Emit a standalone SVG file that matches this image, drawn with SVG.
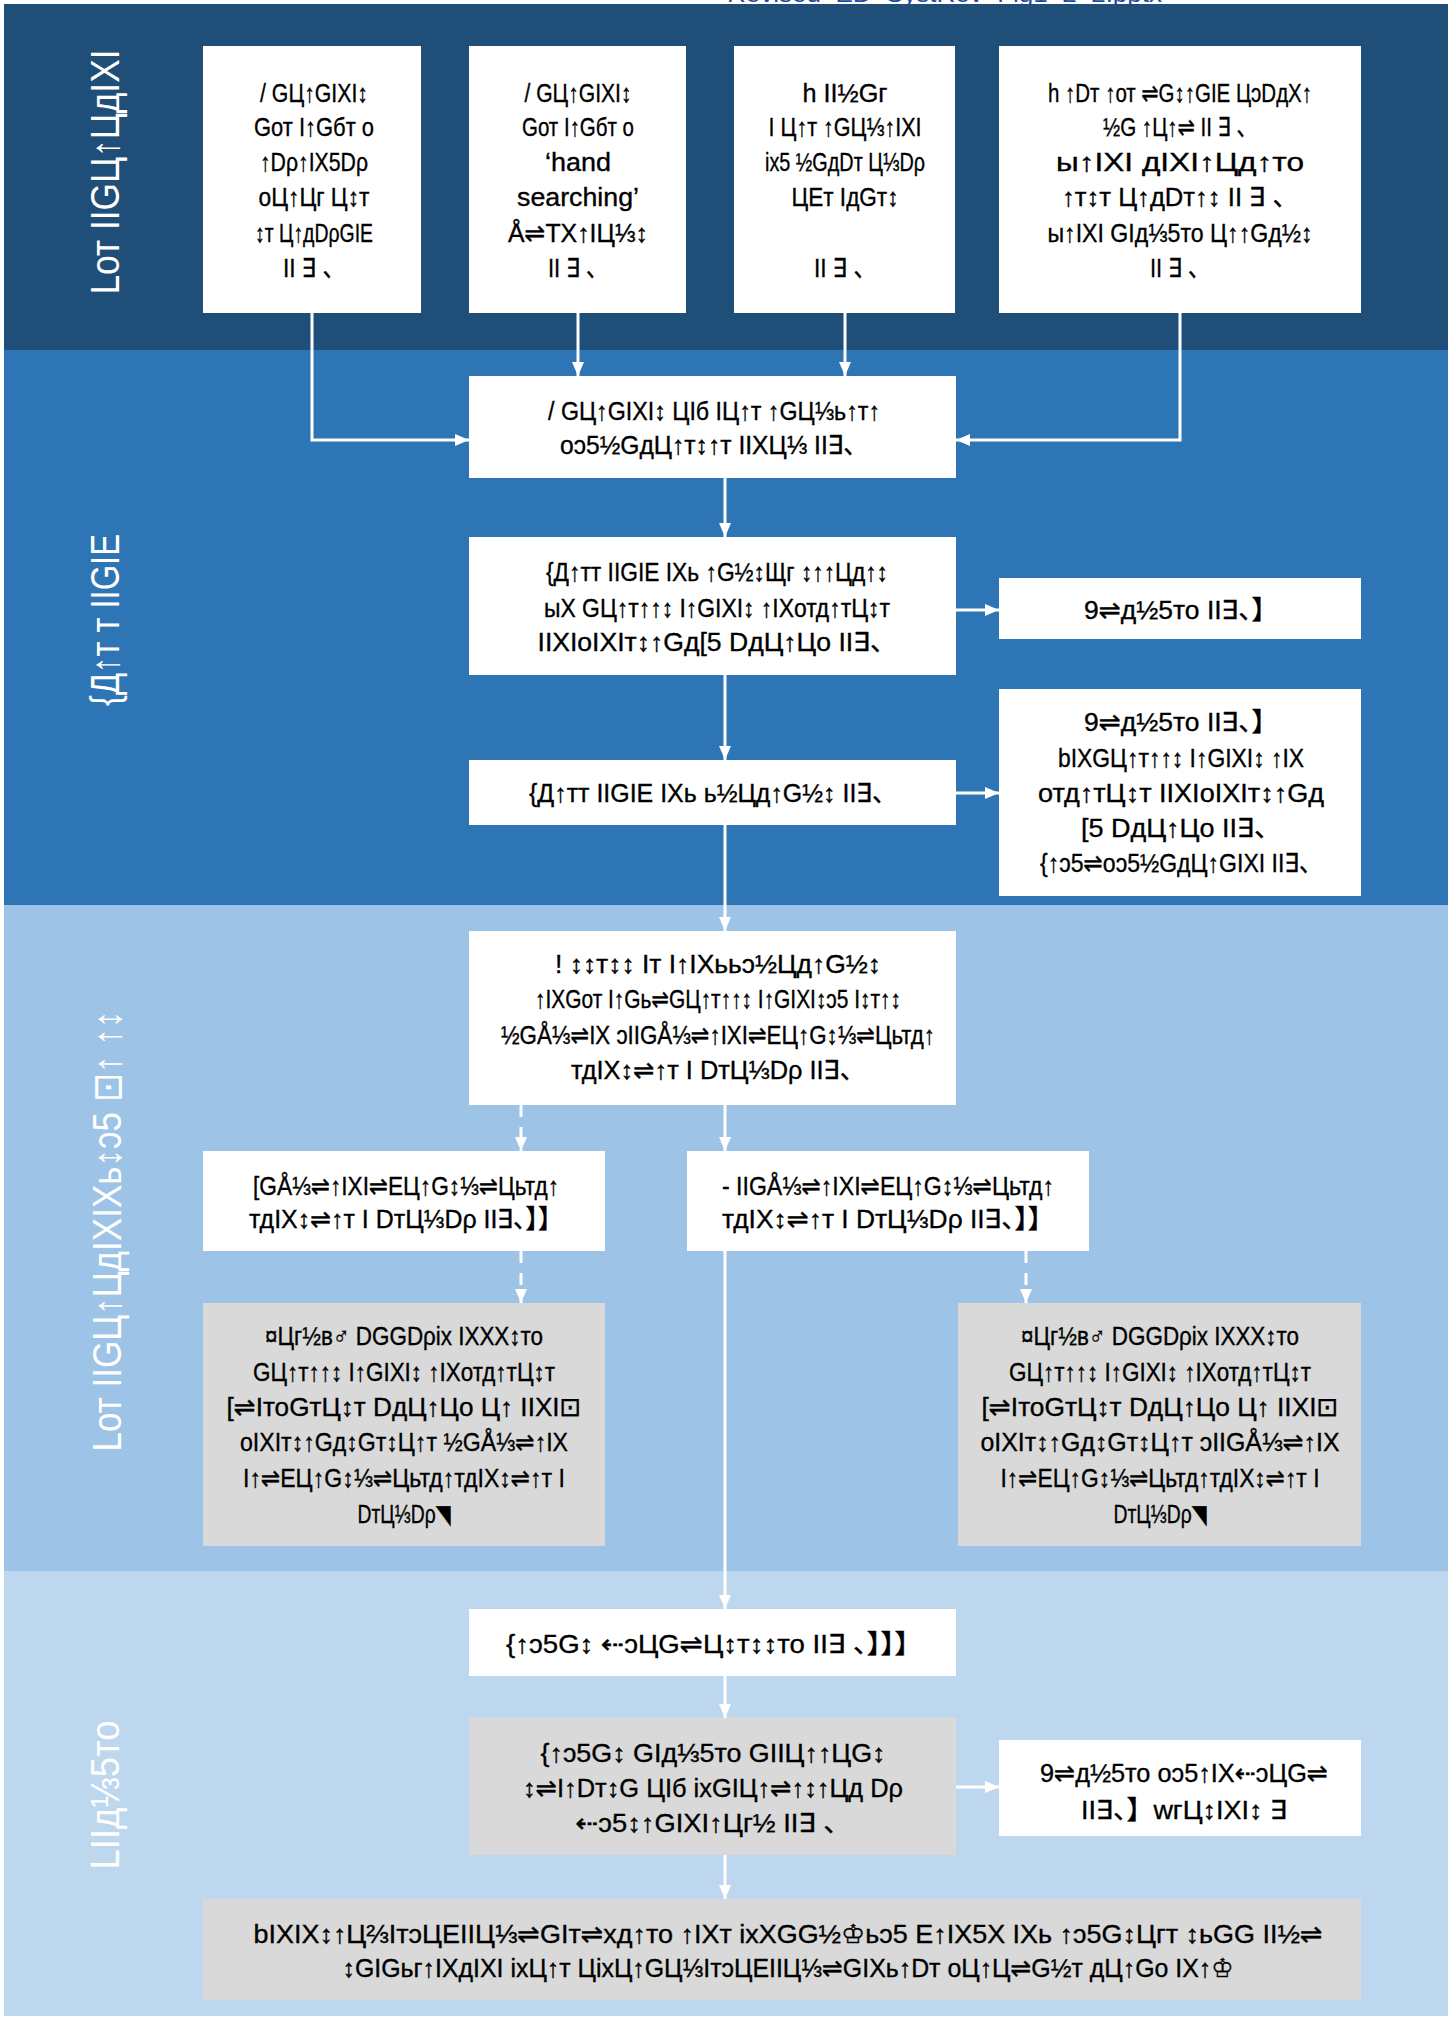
<svg xmlns="http://www.w3.org/2000/svg" width="1456" height="2018" viewBox="0 0 1456 2018">
<defs>
<style>
.t{font-family:"Liberation Sans Narrow","Liberation Sans","DejaVu Sans","Noto Sans CJK SC",sans-serif;font-size:26px;fill:#000;stroke:#000;stroke-width:0.35;text-anchor:middle}
.lab{font-family:"Liberation Sans","DejaVu Sans",sans-serif;font-size:40px;fill:#fff;text-anchor:middle}
.w{fill:#fff}
.g{fill:#D9D9D9}
.c{stroke:#fff;stroke-width:3;fill:none}
.d{stroke:#fff;stroke-width:3;fill:none;stroke-dasharray:12 10}
</style>
<marker id="ah" markerUnits="userSpaceOnUse" markerWidth="14" markerHeight="12" refX="14" refY="6" orient="auto"><path d="M0,0 L14,6 L0,12 z" fill="#fff"/></marker>
</defs>
<rect width="1456" height="2018" fill="#fff"/>
<text x="727" y="1.5" font-family="Liberation Sans, sans-serif" font-size="24" fill="#2347A8" textLength="435" lengthAdjust="spacingAndGlyphs">Revised_ED_SystRev_Fig1_2_2.pptx</text>
<g id="bands">
<rect x="4" y="4" width="1444" height="346" fill="#1F4E79"/>
<rect x="4" y="350" width="1444" height="555" fill="#2E75B6"/>
<rect x="4" y="905" width="1444" height="666" fill="#9DC3E6"/>
<rect x="4" y="1571" width="1444" height="445" fill="#BDD7EE"/>
</g>
<g id="labels">
<text class="lab" transform="translate(119,172) rotate(-90)" textLength="245" lengthAdjust="spacingAndGlyphs">Lот IIGЦ↑ЦдIXI</text>
<text class="lab" transform="translate(119,620) rotate(-90)" textLength="172" lengthAdjust="spacingAndGlyphs">{Д↑т т IIGIE</text>
<text class="lab" transform="translate(121,1231) rotate(-90)" textLength="441" lengthAdjust="spacingAndGlyphs">Lот IIGЦ↑ЦдIXIXь↕ↄ5 ⊡↑ ↑↕</text>
<text class="lab" transform="translate(119,1795) rotate(-90)" textLength="149" lengthAdjust="spacingAndGlyphs">LIIд⅓5то</text>
</g>
<g id="connectors">
<polyline class="c" points="312,313 312,440 469,440" marker-end="url(#ah)"/>
<line class="c" x1="578" y1="313" x2="578" y2="376" marker-end="url(#ah)"/>
<line class="c" x1="845" y1="313" x2="845" y2="376" marker-end="url(#ah)"/>
<polyline class="c" points="1180,313 1180,440 956,440" marker-end="url(#ah)"/>
<line class="c" x1="725" y1="478" x2="725" y2="537" marker-end="url(#ah)"/>
<line class="c" x1="956" y1="610" x2="999" y2="610" marker-end="url(#ah)"/>
<line class="c" x1="725" y1="675" x2="725" y2="760" marker-end="url(#ah)"/>
<line class="c" x1="956" y1="793" x2="999" y2="793" marker-end="url(#ah)"/>
<line class="c" x1="725" y1="825" x2="725" y2="931" marker-end="url(#ah)"/>
<line class="c" x1="725" y1="1105" x2="725" y2="1151" marker-end="url(#ah)"/>
<line class="d" x1="521" y1="1105" x2="521" y2="1151" marker-end="url(#ah)"/>
<line class="d" x1="521" y1="1251" x2="521" y2="1303" marker-end="url(#ah)"/>
<line class="d" x1="1026" y1="1251" x2="1026" y2="1303" marker-end="url(#ah)"/>
<line class="c" x1="725" y1="1251" x2="725" y2="1609" marker-end="url(#ah)"/>
<line class="c" x1="725" y1="1676" x2="725" y2="1718" marker-end="url(#ah)"/>
<line class="c" x1="956" y1="1787" x2="999" y2="1787" marker-end="url(#ah)"/>
<line class="c" x1="725" y1="1855" x2="725" y2="1899" marker-end="url(#ah)"/>
</g>
<g id="b1">
<rect class="w" x="203" y="46" width="218" height="267"/>
<text class="t" x="314" y="102" textLength="108" lengthAdjust="spacingAndGlyphs">/ GЦ↑GIXI↕</text>
<text class="t" x="314" y="136" textLength="120" lengthAdjust="spacingAndGlyphs">Gот I↑Gбт о</text>
<text class="t" x="314" y="171" textLength="108" lengthAdjust="spacingAndGlyphs">↑Dρ↑IX5Dρ</text>
<text class="t" x="314" y="206" textLength="111" lengthAdjust="spacingAndGlyphs">оЦ↑Цг Ц↕т</text>
<text class="t" x="314" y="242" textLength="118" lengthAdjust="spacingAndGlyphs">↕т Ц↑дDρGIE</text>
<text class="t" x="314" y="277" textLength="62" lengthAdjust="spacingAndGlyphs">II ∃ 、</text>
</g>
<g id="b2">
<rect class="w" x="469" y="46" width="217" height="267"/>
<text class="t" x="578" y="102" textLength="107" lengthAdjust="spacingAndGlyphs">/ GЦ↑GIXI↕</text>
<text class="t" x="578" y="136" textLength="112" lengthAdjust="spacingAndGlyphs">Gот I↑Gбт о</text>
<text class="t" x="578" y="171" textLength="66" lengthAdjust="spacingAndGlyphs">‘hand</text>
<text class="t" x="578" y="206" textLength="122" lengthAdjust="spacingAndGlyphs">searching’</text>
<text class="t" x="578" y="242" textLength="140" lengthAdjust="spacingAndGlyphs">Å⇌TX↑IЦ⅓↕</text>
<text class="t" x="578" y="277" textLength="60" lengthAdjust="spacingAndGlyphs">II ∃ 、</text>
</g>
<g id="b3">
<rect class="w" x="734" y="46" width="221" height="267"/>
<text class="t" x="845" y="102" textLength="85" lengthAdjust="spacingAndGlyphs">h II½Gг</text>
<text class="t" x="845" y="136" textLength="153" lengthAdjust="spacingAndGlyphs">I Ц↑т ↑GЦ⅓↑IXI</text>
<text class="t" x="845" y="171" textLength="160" lengthAdjust="spacingAndGlyphs">iх5 ½GдDт Ц⅓Dρ</text>
<text class="t" x="845" y="206" textLength="107" lengthAdjust="spacingAndGlyphs">ЦЕт IдGт↕</text>
<text class="t" x="845" y="277" textLength="62" lengthAdjust="spacingAndGlyphs">II ∃ 、</text>
</g>
<g id="b4">
<rect class="w" x="999" y="46" width="362" height="267"/>
<text class="t" x="1180" y="102" textLength="264" lengthAdjust="spacingAndGlyphs">h ↑Dт ↑от ⇌G↕↑GIE ЦↄDдX↑</text>
<text class="t" x="1180" y="136" textLength="154" lengthAdjust="spacingAndGlyphs">½G ↑Ц↑⇌ II ∃ 、</text>
<text class="t" x="1180" y="171" textLength="248" lengthAdjust="spacingAndGlyphs">ы↑IXI дIXI↑Цд↑то</text>
<text class="t" x="1180" y="206" textLength="236" lengthAdjust="spacingAndGlyphs">↑т↕т Ц↑дDт↑↕  II ∃ 、</text>
<text class="t" x="1180" y="242" textLength="265" lengthAdjust="spacingAndGlyphs">ы↑IXI GIд⅓5то Ц↑↑Gд½↕</text>
<text class="t" x="1180" y="277" textLength="60" lengthAdjust="spacingAndGlyphs">II ∃ 、</text>
</g>
<g id="c1">
<rect class="w" x="469" y="376" width="487" height="102"/>
<text class="t" x="714" y="420" textLength="332" lengthAdjust="spacingAndGlyphs">/ GЦ↑GIXI↕ ЦIб IЦ↑т ↑GЦ⅓ь↑т↑</text>
<text class="t" x="714" y="454" textLength="308" lengthAdjust="spacingAndGlyphs">оↄ5½GдЦ↑т↕↑т IIXЦ⅓ II∃、</text>
</g>
<g id="c2">
<rect class="w" x="469" y="537" width="487" height="138"/>
<text class="t" x="717" y="581" textLength="342" lengthAdjust="spacingAndGlyphs">{Д↑тт IIGIE IXь ↑G½↕Щг ↕↑↑Цд↑↕</text>
<text class="t" x="717" y="617" textLength="346" lengthAdjust="spacingAndGlyphs">ыX GЦ↑т↑↑↕ I↑GIXI↕ ↑IXотд↑тЦ↕т</text>
<text class="t" x="717" y="651" textLength="359" lengthAdjust="spacingAndGlyphs">IIXIоIXIт↕↑Gд[5 DдЦ↑Цо  II∃、</text>
</g>
<g id="r1">
<rect class="w" x="999" y="578" width="362" height="61"/>
<text class="t" x="1181" y="619" textLength="194" lengthAdjust="spacingAndGlyphs">9⇌д½5то  II∃、】</text>
</g>
<g id="c3">
<rect class="w" x="469" y="760" width="487" height="65"/>
<text class="t" x="713" y="802" textLength="368" lengthAdjust="spacingAndGlyphs">{Д↑тт IIGIE IXь ь½Цд↑G½↕  II∃、</text>
</g>
<g id="r2">
<rect class="w" x="999" y="689" width="362" height="207"/>
<text class="t" x="1181" y="731" textLength="194" lengthAdjust="spacingAndGlyphs">9⇌д½5то  II∃、】</text>
<text class="t" x="1181" y="767" textLength="246" lengthAdjust="spacingAndGlyphs">bIXGЦ↑т↑↑↕ I↑GIXI↕ ↑IX</text>
<text class="t" x="1181" y="802" textLength="286" lengthAdjust="spacingAndGlyphs">отд↑тЦ↕т  IIXIоIXIт↕↑Gд</text>
<text class="t" x="1181" y="837" textLength="200" lengthAdjust="spacingAndGlyphs">[5 DдЦ↑Цо  II∃、</text>
<text class="t" x="1181" y="872" textLength="282" lengthAdjust="spacingAndGlyphs">{↑ↄ5⇌оↄ5½GдЦ↑GIXI II∃、</text>
</g>
<g id="c4">
<rect class="w" x="469" y="931" width="487" height="174"/>
<text class="t" x="718" y="973" textLength="326" lengthAdjust="spacingAndGlyphs">! ↕↕т↕↕ Iт I↑IXььↄ½Цд↑G½↕</text>
<text class="t" x="718" y="1008" textLength="366" lengthAdjust="spacingAndGlyphs">↑IXGот I↑Gь⇌GЦ↑т↑↑↕ I↑GIXI↕ↄ5 I↕т↑↕</text>
<text class="t" x="718" y="1044" textLength="434" lengthAdjust="spacingAndGlyphs">½GÅ⅓⇌IX ↄIIGÅ⅓⇌↑IXI⇌ЕЦ↑G↕⅓⇌Цьтд↑</text>
<text class="t" x="718" y="1079" textLength="294" lengthAdjust="spacingAndGlyphs">тдIX↕⇌↑т I DтЦ⅓Dρ  II∃、</text>
</g>
<g id="l1">
<rect class="w" x="203" y="1151" width="402" height="100"/>
<text class="t" x="406" y="1195" textLength="306" lengthAdjust="spacingAndGlyphs">[GÅ⅓⇌↑IXI⇌ЕЦ↑G↕⅓⇌Цьтд↑</text>
<text class="t" x="406" y="1228" textLength="314" lengthAdjust="spacingAndGlyphs">тдIX↕⇌↑т I DтЦ⅓Dρ II∃、】】</text>
</g>
<g id="m1">
<rect class="w" x="687" y="1151" width="402" height="100"/>
<text class="t" x="888" y="1195" textLength="332" lengthAdjust="spacingAndGlyphs">- IIGÅ⅓⇌↑IXI⇌ЕЦ↑G↕⅓⇌Цьтд↑</text>
<text class="t" x="888" y="1228" textLength="332" lengthAdjust="spacingAndGlyphs">тдIX↕⇌↑т I DтЦ⅓Dρ II∃、】】</text>
</g>
<g id="l2">
<rect class="g" x="203" y="1303" width="402" height="243"/>
<text class="t" x="404" y="1345" textLength="278" lengthAdjust="spacingAndGlyphs">¤Цг½в♂ DGGDρiх IXXX↕то</text>
<text class="t" x="404" y="1381" textLength="302" lengthAdjust="spacingAndGlyphs">GЦ↑т↑↑↕ I↑GIXI↕ ↑IXотд↑тЦ↕т</text>
<text class="t" x="404" y="1416" textLength="355" lengthAdjust="spacingAndGlyphs">[⇌IтоGтЦ↕т DдЦ↑Цо Ц↑ IIXI⊡</text>
<text class="t" x="404" y="1451" textLength="328" lengthAdjust="spacingAndGlyphs">оIXIт↕↑Gд↕Gт↕Ц↑т ½GÅ⅓⇌↑IX</text>
<text class="t" x="404" y="1487" textLength="322" lengthAdjust="spacingAndGlyphs">I↑⇌ЕЦ↑G↕⅓⇌Цьтд↑тдIX↕⇌↑т I</text>
<text class="t" x="404" y="1523" textLength="93" lengthAdjust="spacingAndGlyphs">DтЦ⅓Dρ◥</text>
</g>
<g id="r3">
<rect class="g" x="958" y="1303" width="403" height="243"/>
<text class="t" x="1160" y="1345" textLength="278" lengthAdjust="spacingAndGlyphs">¤Цг½в♂ DGGDρiх IXXX↕то</text>
<text class="t" x="1160" y="1381" textLength="302" lengthAdjust="spacingAndGlyphs">GЦ↑т↑↑↕ I↑GIXI↕ ↑IXотд↑тЦ↕т</text>
<text class="t" x="1160" y="1416" textLength="357" lengthAdjust="spacingAndGlyphs">[⇌IтоGтЦ↕т DдЦ↑Цо Ц↑ IIXI⊡</text>
<text class="t" x="1160" y="1451" textLength="359" lengthAdjust="spacingAndGlyphs">оIXIт↕↑Gд↕Gт↕Ц↑т ↄIIGÅ⅓⇌↑IX</text>
<text class="t" x="1160" y="1487" textLength="319" lengthAdjust="spacingAndGlyphs">I↑⇌ЕЦ↑G↕⅓⇌Цьтд↑тдIX↕⇌↑т I</text>
<text class="t" x="1160" y="1523" textLength="93" lengthAdjust="spacingAndGlyphs">DтЦ⅓Dρ◥</text>
</g>
<g id="c5">
<rect class="w" x="469" y="1609" width="487" height="67"/>
<text class="t" x="714" y="1653" textLength="416" lengthAdjust="spacingAndGlyphs">{↑ↄ5G↕ ⇠ↄЦG⇌Ц↕т↕↕то  II∃ 、】】】</text>
</g>
<g id="c6">
<rect class="g" x="469" y="1718" width="487" height="137"/>
<text class="t" x="713" y="1762" textLength="345" lengthAdjust="spacingAndGlyphs">{↑ↄ5G↕ GIд⅓5то GIIЦ↑↑ЦG↕</text>
<text class="t" x="713" y="1797" textLength="380" lengthAdjust="spacingAndGlyphs">↕⇌I↑Dт↕G ЦIб iхGIЦ↑⇌↑↕↑Цд Dρ</text>
<text class="t" x="713" y="1832" textLength="275" lengthAdjust="spacingAndGlyphs">⇠ↄ5↕↑GIXI↑Цг½  II∃ 、</text>
</g>
<g id="r4">
<rect class="w" x="999" y="1740" width="362" height="96"/>
<text class="t" x="1184" y="1782" textLength="288" lengthAdjust="spacingAndGlyphs">9⇌д½5то оↄ5↑IX⇠ↄЦG⇌</text>
<text class="t" x="1184" y="1819" textLength="206" lengthAdjust="spacingAndGlyphs">II∃、】wгЦ↕IXI↕ ∃</text>
</g>
<g id="c7">
<rect class="g" x="203" y="1899" width="1158" height="101"/>
<text class="t" x="788" y="1943" textLength="1069" lengthAdjust="spacingAndGlyphs">bIXIX↕↑Ц⅔IтↄЦЕIIЦ⅓⇌GIт⇌хд↑то ↑IXт iхXGG½♔ьↄ5 Е↑IX5Х IXь ↑ↄ5G↕Цгт ↕ьGG II½⇌</text>
<text class="t" x="788" y="1977" textLength="891" lengthAdjust="spacingAndGlyphs">↕GIGьг↑IXдIXI iхЦ↑т ЦiхЦ↑GЦ⅓IтↄЦЕIIЦ⅓⇌GIXь↑Dт оЦ↑Ц⇌G½т дЦ↑Gо IX↑♔</text>
</g>
</svg>
